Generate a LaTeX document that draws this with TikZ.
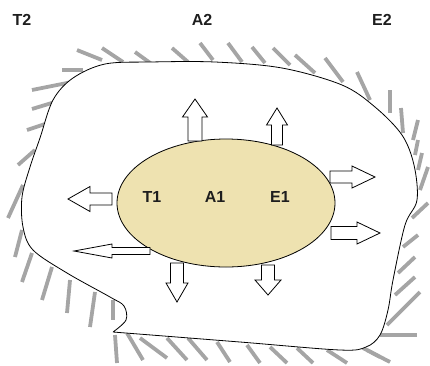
\documentclass[tikz,border=0pt]{standalone}
\usepackage{fontspec}
\setmainfont{Liberation Sans}
\definecolor{hatchgray}{RGB}{165,165,165}
\definecolor{eggfill}{RGB}{238,226,176}
\definecolor{labelcol}{RGB}{30,30,30}
\begin{document}
\begin{tikzpicture}[x=1pt,y=-1pt,
  hatch/.style={draw=hatchgray, line width=3.8pt},
  blob/.style={draw=black, line width=0.8pt, fill=white},
  lbl/.style={font=\bfseries\fontsize{16}{19}\selectfont, text=labelcol, inner sep=0pt},
  barrowstyle/.style={draw=black, fill=white, line width=0.8pt, line join=miter},
  pics/barrow/.style n args={4}{code={%
    \path[barrowstyle] (0,-#2/2) -- ({#1-#4},-#2/2) -- ({#1-#4},-#3/2) -- (#1,0)
      -- ({#1-#4},#3/2) -- ({#1-#4},#2/2) -- (0,#2/2) -- cycle;}}]
\useasboundingbox (0,0) rectangle (430,365);

% hatching outside the boundary
\foreach \a/\b/\c/\d in {
  77/50/102/60, 102/48/123/62, 135/52/153/65, 172/48/188/62, 200/43/213/60,
  62/70/83/70, 32/90/72/82, 32/109/55/102, 27/130/48/123,
  228/43/242/62, 252/47/265/63, 273/48/290/65, 295/55/315/73, 325/58/343/82,
  357/72/370/100, 390/90/390/113, 401/108/403/133, 418/120/413/140,
  418/140/415/155, 422/153/418/170, 428/167/420/190,
  428/203/412/218, 418/235/403/247, 415/257/398/273, 415/277/395/295,
  420/292/387/325, 417/335/380/335, 390/362/367/350,
  35/150/18/165, 23/185/8/218, 22/230/15/257, 32/253/22/282, 52/267/42/300,
  70/280/67/313, 95/292/90/327, 113/300/113/320,
  115/335/117/363, 127/333/143/360, 140/338/167/358, 167/338/187/360,
  188/338/207/360, 217/342/230/362, 247/345/260/363, 270/347/287/363,
  297/348/313/363, 327/350/347/363, 363/348/380/357}
  \draw[hatch] (\a,\b) -- (\c,\d);

% outer boundary
\draw[blob] plot[smooth, tension=0.55] coordinates {
  (113,332) (240,342) (340,350) (366,347) (380,335) (388,310) (393,280)
  (405,225) (417,200) (414,165) (402,135) (375,107) (342,85) (282,68)
  (215,62) (150,62) (105,64) (73,78) (53,100) (40,138) (30,167) (22,197)
  (23,227) (33,250) (67,273) (110,297) (124,306) (126,320) (113,332)};

% inner ellipse
\draw[fill=eggfill, draw=black, line width=0.8pt] (226,203) ellipse [x radius=109, y radius=64];

% block arrows: length, shaft width, head width, head length
\pic[rotate=90]  at (195,141) {barrow={42}{14}{25}{18}};
\pic[rotate=90]  at (277,145) {barrow={37}{11}{21}{17}};
\pic[rotate=180] at (112,199) {barrow={44}{12}{25}{22}};
\pic[rotate=180] at (150,251) {barrow={76}{7}{14}{38}};
\pic[rotate=-90] at (177,263) {barrow={39}{13}{22}{19}};
\pic[rotate=-90] at (268,265) {barrow={30}{13}{26}{15}};
\pic[rotate=0]   at (330,177) {barrow={45}{12}{22}{23}};
\pic[rotate=0]   at (331,233) {barrow={49}{13}{22}{23}};

% labels
\node[lbl] (t2) at (22,20) {T2};
\node[lbl] (a2) at (202,20) {A2};
\node[lbl] (e2) at (382,20) {E2};
\node[lbl] (t1) at (152,197) {T1};
\node[lbl] (a1) at (215,197) {A1};
\node[lbl] (e1) at (280,197) {E1};
\end{tikzpicture}
\end{document}
